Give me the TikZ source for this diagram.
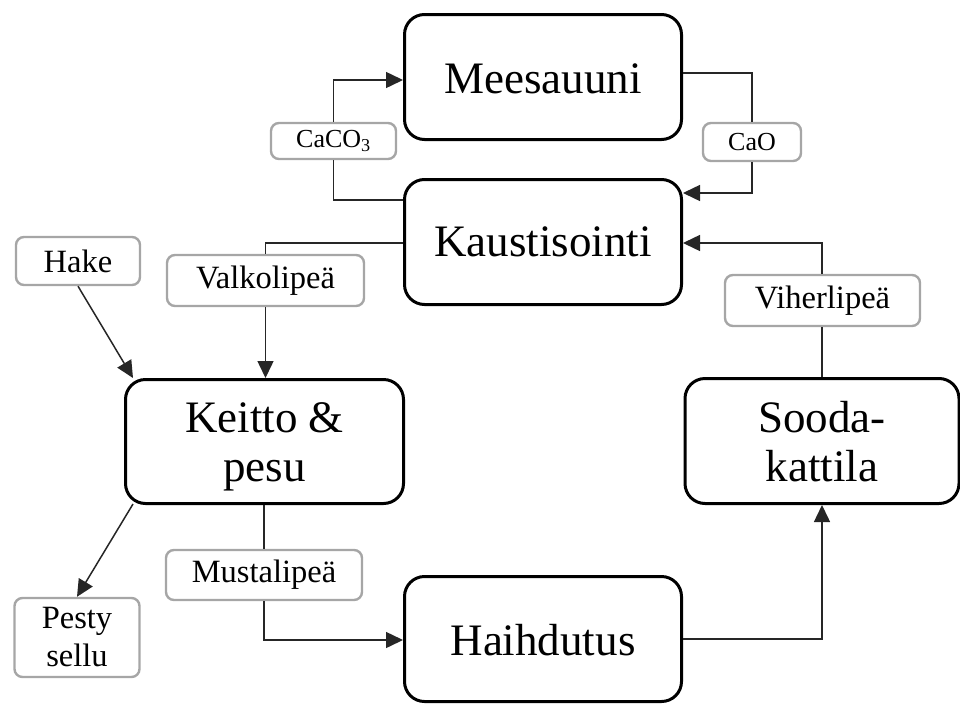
\documentclass[tikz,border=0pt]{standalone}
\usepackage{fontspec}
\setmainfont{Liberation Serif}
\usetikzlibrary{arrows.meta,calc}
\newcommand{\lowertxt}[2][3pt]{\raisebox{-#1}[\height][\depth]{\begin{tabular}{@{}c@{}}#2\end{tabular}}}
\begin{document}
\begin{tikzpicture}[x=1pt,y=-1pt,
  mainbox/.style={draw=black,line width=3pt,rounded corners=20pt,align=center,inner sep=0pt,
    font=\fontsize{45}{49}\selectfont},
  lbl/.style={draw=black!35,line width=2.4pt,rounded corners=8pt,align=center,inner sep=0pt,fill=white,
    font=\fontsize{32.5}{38}\selectfont},
  slbl/.style={lbl,font=\fontsize{26}{30}\selectfont},
  conn/.style={line width=1.5pt,draw=black!85},
  arr/.style={conn,-{Triangle[length=17pt,width=16pt]}}]
\useasboundingbox (0,0) rectangle (960,704);
% main boxes
\node[mainbox,minimum width=277pt,minimum height=125pt] (mees) at (543,77) {\lowertxt[7pt]{Meesauuni}};
\node[mainbox,minimum width=277pt,minimum height=125pt] (kaus) at (543,242) {\lowertxt[5pt]{Kaustisointi}};
\node[mainbox,minimum width=278pt,minimum height=124pt] (keit) at (264.5,441.5) {\lowertxt[6pt]{Keitto \&\\pesu}};
\node[mainbox,minimum width=274pt,minimum height=125pt] (sood) at (822,441) {\lowertxt[6pt]{Sooda-\\kattila}};
\node[mainbox,minimum width=277pt,minimum height=125pt] (haih) at (543,639) {\lowertxt[7pt]{Haihdutus}};
% labels
\node[slbl,minimum width=125pt,minimum height=36pt] (caco) at (333.5,141) {CaCO\textsubscript{3}};
\node[slbl,minimum width=98pt,minimum height=38pt] (cao) at (752,142) {CaO};
\node[lbl,minimum width=124pt,minimum height=48pt] (hake) at (78,261) {Hake};
\node[lbl,minimum width=197pt,minimum height=51pt] (valk) at (265.5,280.5) {Valkolipeä};
\node[lbl,minimum width=195pt,minimum height=51pt] (viher) at (822.5,300.5) {Viherlipeä};
\node[lbl,minimum width=196pt,minimum height=50pt] (must) at (264,575) {Mustalipeä};
\node[lbl,minimum width=125pt,minimum height=79pt] (pesty) at (77,637.5) {Pesty\\sellu};
% connectors
\draw[conn] (kaus.west |- {0,200}) -| (caco.south);
\draw[arr] (caco.north) |- (mees.west |- {0,80});
\draw[conn] (mees.east |- {0,73}) -| (cao.north);
\draw[arr] (cao.south) |- (kaus.east |- {0,193});
\draw[conn] (kaus.west |- {0,243}) -| (valk.north);
\draw[arr] (valk.south) -- (keit.north -| valk.south);
\coordinate (hakeend) at ($(keit.north west)+(9,0)$);
\draw[arr] (hake.south) -- (hakeend);
\coordinate (pestystart) at ($(keit.south west)+(9,-1)$);
\draw[arr] (pestystart) -- (pesty.north);
\draw[conn] (keit.south -| must.north) -- (must.north);
\draw[arr] (must.south) |- (haih.west |- {0,640});
\draw[arr] (haih.east |- {0,639}) -| (sood.south);
\draw[conn] (sood.north) -- (viher.south -| sood.north);
\draw[arr] (viher.north -| sood.north) |- (kaus.east |- {0,243});
\end{tikzpicture}
\end{document}
